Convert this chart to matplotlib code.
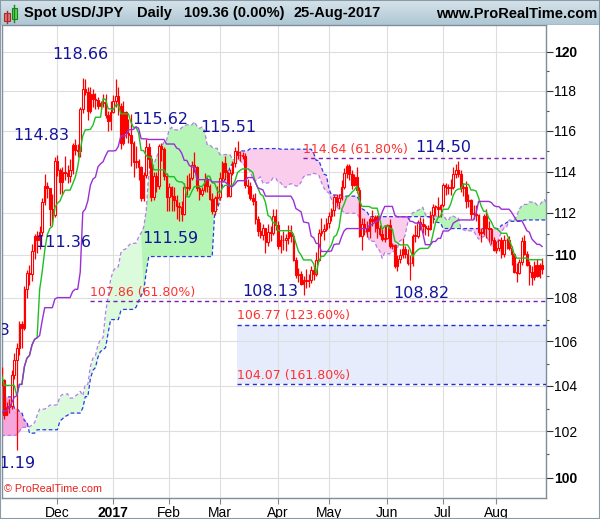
import numpy as np
import pandas as pd
import matplotlib
matplotlib.use("Agg")
import matplotlib.pyplot as plt
from matplotlib.patches import Rectangle
from matplotlib.ticker import FixedLocator, NullFormatter

plt.rcParams['font.family'] = ['Liberation Sans', 'DejaVu Sans']

# daily bars, every weekday 1-Nov-2016 .. 25-Aug-2017
dates = pd.bdate_range('2016-11-01', '2017-08-25')

opens = [
    104.80, 104.25, 102.70, 103.05, 103.10, 104.50, 105.15, 105.70, 106.80, 106.60, 108.40,
    109.15, 109.10, 110.20, 110.90, 110.70, 111.10, 112.50, 113.30, 113.20, 112.20, 111.90,
    114.50, 114.05, 113.50, 114.00, 113.95, 113.80, 114.05, 115.30, 115.05, 115.00, 117.10,
    118.10, 117.95, 117.00, 117.85, 117.60, 117.55, 117.25, 117.40, 117.45, 116.80, 116.50,
    116.95, 117.50, 117.75, 117.25, 115.40, 116.95, 115.90, 115.80, 115.40, 114.45, 114.50,
    114.20, 112.70, 113.85, 115.20, 114.60, 112.75, 113.80, 113.30, 115.25, 115.10, 113.80,
    112.75, 113.25, 112.80, 112.60, 112.35, 112.30, 111.95, 113.25, 113.20, 113.70,
    114.30, 114.20, 113.20, 112.90, 113.10, 113.60, 113.30, 112.65, 112.10, 112.70,
    112.75, 113.70, 114.40, 114.00, 112.80, 113.95, 114.40, 115.00, 114.80, 114.80, 114.75, 113.35,
    113.30, 112.70, 112.55, 111.70, 111.15, 110.95, 111.30, 110.60, 111.10, 111.05, 111.85,
    111.40, 110.40, 110.70, 110.70, 110.80, 111.10, 110.90, 109.75, 109.05, 109.10,
    108.65, 108.85, 108.80, 108.85, 109.30, 109.10, 109.75, 111.05, 111.15, 111.25,
    111.50, 111.85, 112.15, 112.75, 112.50, 112.70, 113.25, 113.95, 114.25, 113.90, 113.35, 113.75,
    113.10, 110.90, 111.45, 111.30, 111.15, 111.70, 111.60, 111.80, 111.30, 111.00, 110.75,
    110.80, 111.40, 110.40, 110.45, 109.50, 109.80, 110.00, 110.30, 110.05, 109.60, 109.60,
    110.90, 110.90, 111.55, 111.45, 111.35, 111.30, 111.25, 111.90, 112.30, 112.30, 112.20,
    112.40, 113.35, 113.25, 113.20, 113.25, 113.90, 114.05, 113.90, 113.20, 113.25, 112.55,
    112.60, 111.95, 111.95, 111.90, 111.10, 111.05, 111.85, 111.30, 111.25, 110.70,
    110.25, 110.35, 110.70, 110.05, 110.70, 110.70, 110.35, 110.05, 109.20, 109.15,
    109.65, 110.65, 110.05, 109.55, 109.20, 108.95, 109.55, 109.00, 109.55,
]
highs = [
    104.87, 104.30, 103.30, 103.40, 104.70, 105.50, 105.95, 106.95, 106.95, 108.55, 109.30,
    109.55, 110.50, 111.00, 111.15, 111.35, 112.70, 113.90, 113.50, 113.20, 112.90, 114.70,
    114.83, 114.15, 114.20, 114.75, 114.30, 114.60, 115.40, 115.60, 115.35, 117.20, 118.66,
    118.60, 118.20, 118.20, 118.10, 117.90, 117.70, 117.50, 117.85, 117.85, 117.00, 117.50,
    117.80, 118.60, 118.20, 117.40, 117.50, 117.00, 116.60, 116.85, 115.50, 115.25, 114.60,
    114.25, 114.00, 115.62, 115.40, 114.80, 114.00, 114.00, 115.35, 115.40, 115.20, 113.95,
    113.45, 113.30, 113.25, 112.85, 112.50, 112.55, 113.45, 113.85, 113.95, 114.50,
    114.95, 114.25, 113.35, 113.25, 113.95, 113.75, 113.40, 112.95, 112.80, 113.30,
    114.00, 114.50, 114.75, 114.05, 114.10, 114.50, 115.20, 115.51, 115.00, 114.95, 114.90, 113.65,
    113.50, 112.90, 112.95, 111.85, 111.55, 111.45, 111.30, 111.45, 111.35, 112.20, 112.20,
    111.60, 110.95, 111.15, 111.00, 111.40, 111.40, 111.05, 109.90, 109.40, 109.25,
    109.00, 109.35, 109.10, 109.50, 109.50, 110.15, 111.25, 111.75, 111.45, 111.75,
    112.05, 112.25, 112.85, 112.90, 112.90, 113.60, 114.15, 114.37, 114.35, 114.05, 113.90, 114.20,
    113.25, 111.75, 111.75, 111.60, 111.80, 112.15, 111.90, 111.90, 111.40, 111.25, 111.40,
    111.45, 111.70, 110.55, 110.50, 110.00, 110.30, 110.80, 110.40, 110.30, 110.00, 111.00,
    111.40, 111.65, 111.80, 111.75, 111.45, 111.40, 112.10, 112.45, 112.40, 112.75, 112.45,
    113.45, 113.45, 113.40, 113.65, 114.20, 114.35, 114.50, 114.05, 113.45, 113.55, 112.90,
    112.65, 112.40, 112.40, 111.95, 111.30, 111.95, 112.20, 111.60, 111.30, 110.85,
    110.65, 110.75, 110.85, 110.95, 110.80, 110.90, 110.40, 110.10, 109.60, 109.80,
    110.85, 110.95, 110.20, 109.70, 109.50, 109.70, 109.80, 109.60, 109.85,
]
lows = [
    104.00, 102.55, 102.70, 102.80, 103.00, 104.30, 101.19, 105.40, 105.70, 106.50, 108.00,
    108.60, 108.80, 109.80, 110.10, 110.30, 110.90, 112.40, 112.70, 111.36, 111.40, 111.80,
    113.80, 112.90, 112.85, 113.60, 113.45, 113.50, 113.90, 114.80, 114.70, 114.70, 116.90,
    117.80, 116.55, 116.90, 117.20, 117.10, 117.10, 117.10, 117.20, 116.65, 116.00, 116.05,
    116.90, 117.20, 116.80, 115.10, 115.30, 115.65, 115.40, 114.25, 113.75, 114.15, 113.60,
    112.57, 112.55, 113.70, 114.15, 112.55, 112.60, 113.00, 113.15, 114.50, 113.60, 112.10,
    112.10, 112.10, 112.10, 111.70, 111.59, 111.60, 111.90, 112.85, 113.10, 113.60,
    114.00, 113.05, 112.60, 112.80, 113.00, 113.00, 112.60, 111.95, 111.90, 112.40,
    112.60, 113.55, 113.60, 112.75, 112.75, 113.85, 114.20, 114.60, 114.50, 114.60, 113.20, 112.90,
    112.60, 112.40, 111.45, 110.90, 110.80, 110.70, 110.10, 110.40, 110.65, 110.95, 111.20,
    110.30, 110.10, 110.25, 110.20, 110.50, 110.60, 109.70, 108.90, 108.75, 108.60,
    108.13, 108.45, 108.50, 108.70, 108.85, 109.00, 109.70, 110.90, 110.70, 111.15,
    111.30, 111.60, 111.85, 112.35, 112.20, 112.60, 113.15, 113.70, 113.60, 113.15, 113.30, 112.95,
    110.85, 110.25, 110.95, 110.85, 110.80, 111.35, 111.10, 110.80, 110.90, 110.65, 110.60,
    110.75, 110.35, 110.30, 109.40, 109.25, 109.60, 109.85, 109.85, 109.55, 108.82, 109.50,
    110.60, 110.80, 111.20, 111.05, 110.95, 110.90, 111.20, 111.50, 111.90, 111.80, 111.80,
    112.30, 112.85, 112.90, 112.85, 113.15, 113.70, 113.75, 113.00, 112.80, 112.25, 112.30,
    111.70, 111.70, 111.60, 110.95, 110.60, 110.95, 110.80, 110.60, 110.50, 110.20,
    110.10, 110.20, 109.85, 109.90, 110.30, 110.25, 109.55, 109.15, 108.75, 109.10,
    109.55, 110.00, 109.50, 108.60, 108.60, 108.85, 108.95, 108.90, 109.10,
]
closes = [
    104.25, 102.70, 103.05, 103.10, 104.50, 105.15, 105.70, 106.80, 106.60, 108.40, 109.15,
    109.10, 110.20, 110.90, 110.70, 111.10, 112.50, 113.30, 113.20, 112.20, 111.90, 114.50,
    114.05, 113.50, 114.00, 113.95, 113.80, 114.05, 115.30, 115.05, 115.00, 117.10, 118.10,
    117.95, 117.00, 117.85, 117.60, 117.55, 117.25, 117.40, 117.45, 116.80, 116.50, 116.95,
    117.50, 117.75, 117.25, 115.40, 116.95, 115.90, 115.80, 115.40, 114.45, 114.50, 114.20,
    112.70, 113.85, 115.20, 114.60, 112.75, 113.80, 113.30, 115.25, 115.10, 113.80, 112.75,
    113.25, 112.80, 112.60, 112.35, 112.30, 111.95, 113.25, 113.20, 113.70, 114.30,
    114.20, 113.20, 112.90, 113.10, 113.60, 113.30, 112.65, 112.10, 112.70, 112.75,
    113.70, 114.40, 114.00, 112.80, 113.95, 114.40, 115.00, 114.80, 114.80, 114.75, 113.35, 113.30,
    112.70, 112.55, 111.70, 111.15, 110.95, 111.30, 110.60, 111.10, 111.05, 111.85, 111.40,
    110.40, 110.70, 110.70, 110.80, 111.10, 110.90, 109.75, 109.05, 109.10, 108.65,
    108.85, 108.80, 108.85, 109.30, 109.10, 109.75, 111.05, 111.15, 111.25, 111.50,
    111.85, 112.15, 112.75, 112.50, 112.70, 113.25, 113.95, 114.25, 113.90, 113.35, 113.75, 113.10,
    110.90, 111.45, 111.30, 111.15, 111.70, 111.60, 111.80, 111.30, 111.00, 110.75, 110.80,
    111.40, 110.40, 110.45, 109.50, 109.80, 110.00, 110.30, 110.05, 109.60, 109.60, 110.90,
    110.90, 111.55, 111.45, 111.35, 111.30, 111.25, 111.90, 112.30, 112.30, 112.20, 112.40,
    113.35, 113.25, 113.20, 113.25, 113.90, 114.05, 113.90, 113.20, 113.25, 112.55, 112.60,
    111.95, 111.95, 111.90, 111.10, 111.05, 111.85, 111.30, 111.25, 110.70, 110.25,
    110.35, 110.70, 110.05, 110.70, 110.70, 110.35, 110.05, 109.20, 109.15, 109.65,
    110.65, 110.05, 109.55, 109.20, 108.95, 109.55, 109.00, 109.55, 109.36,
]

# earlier highs / lows (15-Jul-2016 .. 31-Oct-2016), only used to feed the Ichimoku lines
pre_high = [
    106.30, 106.30, 106.50, 107.00, 107.49, 106.50, 106.50, 106.20, 106.10, 105.40, 105.30,
    102.80, 102.50, 101.90, 101.50, 102.20, 102.60, 102.10, 101.90, 102.10, 102.10, 101.60, 101.20,
    100.80, 100.20, 100.40, 100.80, 100.50, 100.80, 100.80, 102.00, 102.40, 103.00, 103.50,
    103.60, 104.30, 104.00, 103.50, 102.20, 102.40, 103.00, 102.80, 102.80, 102.60, 102.40,
    102.40, 102.00, 101.80, 102.80, 101.00, 101.20, 101.00, 100.90, 100.90, 101.30, 101.50,
    101.70, 102.90, 103.50, 104.20, 104.00, 103.80, 103.90, 104.20, 104.20, 104.60, 104.20,
    104.00, 103.90, 104.00, 104.20, 104.30, 104.40, 104.50, 105.30, 105.50, 105.00,
]
pre_low = [
    104.90, 105.10, 105.60, 105.90, 105.50, 105.60, 105.80, 104.60, 104.40, 104.10, 102.00,
    101.90, 100.70, 100.70, 100.90, 100.90, 101.70, 101.50, 101.10, 101.20, 101.20, 101.00, 99.54,
    99.90, 99.60, 99.80, 99.90, 100.10, 100.10, 100.20, 100.10, 101.80, 101.90, 102.70,
    103.10, 103.00, 103.20, 101.20, 101.20, 101.50, 101.90, 101.70, 101.80, 102.00, 101.90,
    101.80, 101.60, 101.50, 100.10, 100.10, 100.50, 100.10, 100.10, 100.30, 100.30, 100.60,
    101.00, 101.50, 102.60, 103.30, 102.60, 102.90, 103.30, 103.30, 103.30, 103.70, 103.60,
    103.50, 103.40, 103.50, 103.60, 103.80, 103.90, 104.00, 104.40, 104.60, 104.50,
]

month_starts = ['2016-12-01', '2017-01-02', '2017-02-01', '2017-03-01', '2017-04-03',
                '2017-05-01', '2017-06-01', '2017-07-03', '2017-08-01']
month_labels = ['Dec', '2017', 'Feb', 'Mar', 'Apr', 'May', 'Jun', 'Jul', 'Aug']

swing_values = [118.66, 114.83, 111.36, 115.62, 111.59, 115.51, 108.13, 108.82, 114.50, 101.19, 105.53]

fib_levels = [114.64, 107.86, 106.77, 104.07]
fib_pct = ['61.80%', '61.80%', '123.60%', '161.80%']
fib_from = ['2017-04-17', '2016-12-20', '2017-03-10', '2017-03-10']


def day(d):
    return dates.get_loc(pd.Timestamp(d))


opens = np.array(opens)
highs = np.array(highs)
lows = np.array(lows)
closes = np.array(closes)
x = np.arange(len(dates))

# Ichimoku
n_pre = len(pre_high)
H = pd.Series(pre_high + list(highs))
L = pd.Series(pre_low + list(lows))
tenkan = (H.rolling(9).max() + L.rolling(9).min()) / 2
kijun = (H.rolling(26).max() + L.rolling(26).min()) / 2
full = range(len(H) + 26)
span_a = ((tenkan + kijun) / 2).reindex(full).shift(26).values
span_b = ((H.rolling(52).max() + L.rolling(52).min()) / 2).reindex(full).shift(26).values
xf = np.arange(len(H) + 26) - n_pre

red = '#ff0000'
navy = '#14149a'

fig = plt.figure(figsize=(6.0, 5.19), dpi=100, facecolor='white')
ax = fig.add_axes([2 / 600, 21 / 519, 544 / 600, 473 / 519])
ax.set_yscale('log')

# cloud: green when span A is above span B, pink otherwise (paler shades early on)
ok = ~np.isnan(span_a) & ~np.isnan(span_b)
xa, a, b = xf[ok].astype(float), span_a[ok], span_b[ok]
above = a >= b
pale_green, bright_green = '#dcfadc', '#b5f5b5'
bright_pink, pale_pink = '#f6a6da', '#f9cdeb'
ax.fill_between(xa, a, b, where=above & (xa <= 56), interpolate=True, color=pale_green, lw=0, zorder=1)
ax.fill_between(xa, a, b, where=above & (xa >= 56), interpolate=True, color=bright_green, lw=0, zorder=1)
ax.fill_between(xa, a, b, where=~above & (xa <= 20), interpolate=True, color=bright_pink, lw=0, zorder=1)
ax.fill_between(xa, a, b, where=~above & (xa >= 20), interpolate=True, color=pale_pink, lw=0, zorder=1)
ax.plot(xa, a, color='#b47ee6', lw=0.9, dashes=(3, 2), zorder=2)
ax.plot(xa, b, color='#2a3ae8', lw=0.9, dashes=(3, 2), zorder=2)

# fibonacci levels
x_right = 214.55
ax.fill_between([day(fib_from[2]) - 0.3, x_right], fib_levels[3], fib_levels[2],
                color='#e7ecfc', lw=0, zorder=0.5)
for lev, pct, d0 in zip(fib_levels, fib_pct, fib_from):
    col = '#7a1fb0' if pct == '61.80%' else '#1f2fd8'
    x0 = day(d0) - 0.3
    ax.plot([x0, x_right], [lev, lev], color=col, lw=1, dashes=(3, 2.5), zorder=3)
    ax.annotate(f'{lev:.2f} ({pct})', (x0 + 0.2, lev), xytext=(0, 1.5), textcoords='offset points',
                color='#ff3030', fontsize=9, family='DejaVu Sans', va='bottom', ha='left', zorder=7)

# candles
up = closes >= opens
ax.vlines(x, lows, highs, color=red, lw=0.9, zorder=4)
ax.bar(x, np.maximum(np.abs(closes - opens), 0.03), bottom=np.minimum(opens, closes),
       width=0.62, color=np.where(up, 'white', red), edgecolor=red, linewidth=0.8, zorder=5)

# tenkan / kijun
ax.plot(xf[:len(H)], tenkan.values, color='#1fbf1f', lw=1, zorder=6)
ax.plot(xf[:len(H)], kijun.values, color='#9a2fd6', lw=1, zorder=6)

# swing labels (the two at the left edge are cut by the frame, as in the source)
label_pos = [(30.9, 119.85, 'center'), (15.7, 115.75, 'center'), (24.2, 110.57, 'center'),
             (62.4, 116.55, 'center'), (66.4, 110.80, 'center'), (89.2, 116.16, 'center'),
             (105.8, 108.27, 'center'), (165.3, 108.18, 'center'), (174.0, 115.20, 'center'),
             (13.2, 100.59, 'right'), (3.3, 106.48, 'right')]
for v, (px, py, ha) in zip(swing_values, label_pos):
    ax.text(px, py, f'{v:.2f}', color=navy, fontsize=11.5, family='DejaVu Sans',
            ha=ha, va='center', zorder=7, clip_on=True)

ax.text(1.0, 99.5, '\u00a9 ProRealTime.com', color='#e8201c', fontsize=7.8, va='center', zorder=7)

# axes
ax.set_xlim(0.17, x_right)
ax.set_ylim(99.13, 121.38)
ax.yaxis.tick_right()
ax.yaxis.set_major_locator(FixedLocator(list(range(100, 121, 2))))
ax.yaxis.set_minor_locator(FixedLocator(list(range(101, 121, 2))))
ax.yaxis.set_minor_formatter(NullFormatter())
ax.set_yticklabels([str(v) for v in range(100, 121, 2)])
for t in ax.get_yticklabels():
    if t.get_text() in ('100', '110', '120'):
        t.set_fontweight('bold')
ax.tick_params(axis='y', which='major', length=5, width=0.8, pad=1, labelsize=10, colors='#333333')
ax.tick_params(axis='y', which='minor', length=2.5, width=0.8, colors='#555555')
ax.tick_params(axis='y', labelcolor='black')
ax.set_xticks([day(d) for d in month_starts])
ax.set_xticklabels(month_labels)
ax.get_xticklabels()[1].set_fontweight('bold')
ax.tick_params(axis='x', length=4, width=0.8, pad=1.5, labelsize=10, colors='#888888', labelcolor='black')
ax.grid(True, color='#dedede', lw=0.8, zorder=0)
ax.set_axisbelow(True)
for s in ax.spines.values():
    s.set_color('#7f8e9a')
    s.set_linewidth(1)

# header bar
hd = fig.add_axes([0, 1 - 25 / 519, 1, 25 / 519])
grad = np.linspace(0, 1, 50)[:, None]
top, bot = np.array([0.84, 0.89, 0.92]), np.array([0.68, 0.78, 0.83])
hd.imshow(top + (bot - top) * grad[:, :, None], aspect='auto', extent=[0, 600, 25, 0])
hd.set_xlim(0, 600)
hd.set_ylim(25, 0)
hd.axis('off')
hd.plot([7, 7], [10.5, 23], color='#a03030', lw=1)
hd.add_patch(Rectangle((4, 13), 6, 8, facecolor='#f07070', edgecolor='#a03030', lw=0.8))
hd.plot([14, 14], [4.5, 22], color='#208020', lw=1)
hd.add_patch(Rectangle((11.5, 8), 5.5, 11, facecolor='#50e050', edgecolor='#208020', lw=0.8))
for txt, px in [('Spot USD/JPY', 24), ('Daily', 137), ('109.36 (0.00%)', 184), ('25-Aug-2017', 294)]:
    hd.text(px, 13.5, txt, fontsize=10.5, fontweight='bold', va='center', ha='left')
hd.text(597, 13.5, 'www.ProRealTime.com', fontsize=10.5, fontweight='bold', va='center', ha='right')
hd.plot([0, 600], [24.5, 24.5], color='#8093a0', lw=1)

fig.add_artist(Rectangle((0, 0), 1, 1, transform=fig.transFigure, fill=False,
                         edgecolor='#8a9ba8', lw=1.5))

fig.savefig('out.png', dpi=100, facecolor='white')
